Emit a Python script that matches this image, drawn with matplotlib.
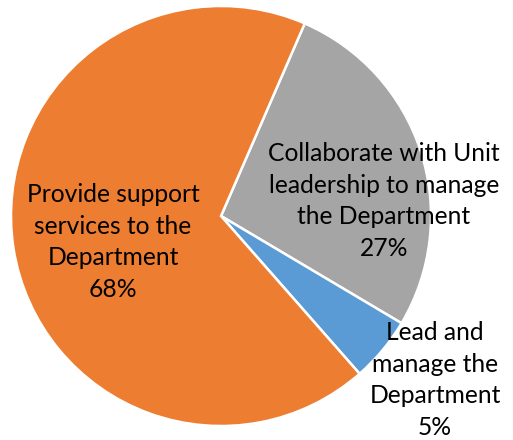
import matplotlib.pyplot as plt

# share of time by role
roles = ["Collaborate with Unit\nleadership to manage\nthe Department",
         "Lead and\nmanage the\nDepartment",
         "Provide support\nservices to the\nDepartment"]
shares = [27, 5, 68]
colors = ["#A5A5A5", "#5B9BD5", "#ED7D31"]

# label centres in pixels (x, y from top)
label_px = [(384, 201), (435, 380), (113, 242)]

W, H = 513, 440
cx, cy, R = 221, 216, 210

plt.rcParams['font.family'] = ['Lato', 'DejaVu Sans']
fig = plt.figure(figsize=(W / 100, H / 100), dpi=100)
ax = fig.add_axes([0, 0, 1, 1])
ax.pie(shares, colors=colors, startangle=66.5, counterclock=False,
       radius=1, wedgeprops=dict(edgecolor='white', linewidth=1.8))
ax.set_xlim(-cx / R, (W - cx) / R)
ax.set_ylim(-(H - cy) / R, cy / R)
ax.set_aspect('equal')
ax.axis('off')

for name, val, (px, py) in zip(roles, shares, label_px):
    ax.text((px - cx) / R, (cy - py) / R, f"{name}\n{val}%",
            ha='center', va='center', fontsize=17.7, linespacing=1.44,
            color='black')

plt.savefig('out.png', dpi=100)
